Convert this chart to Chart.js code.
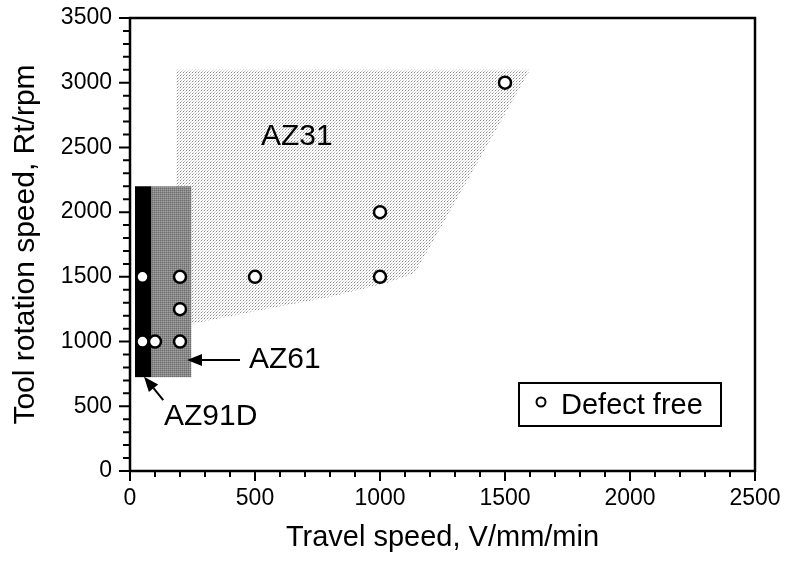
<!DOCTYPE html>
<html>
<head>
<meta charset="utf-8">
<script src="https://cdn.jsdelivr.net/npm/chart.js@4.4.1/dist/chart.umd.min.js"></script>
<style>
  html, body { margin: 0; padding: 0; background: #fff; }
  #wrap { width: 787px; height: 561px; }
</style>
</head>
<body>
<div id="wrap"><canvas id="chart" width="787" height="561"></canvas></div>
<script>
// defect free welds: travel speed (mm/min) vs tool rotation (rpm)
const travelSpeed   = [50, 50, 100, 200, 200, 200, 500, 1000, 1000, 1500];
const rotationSpeed = [1000, 1500, 1000, 1000, 1250, 1500, 1500, 1500, 2000, 3000];

// process windows for each alloy
const az31Speed     = [185, 1600, 1140, 1030, 800, 530, 280, 185];
const az31Rotation  = [3100, 3100, 1530, 1455, 1345, 1245, 1150, 1120];
const az61Speed     = [85, 245];
const az61Rotation  = [725, 2200];
const az91dSpeed    = [20, 85];
const az91dRotation = [725, 2200];

// axes
const xRange = [0, 2500];
const yRange = [0, 3500];
const majorStep = 500;
const minorStep = 100;

const FONT = "'Liberation Sans', Arial, sans-serif";

// text labels and arrows, in data units
const regionLabels = [
  { text: 'AZ31',  x: 524, y: 2519 },
  { text: 'AZ61',  x: 476, y: 796 },
  { text: 'AZ91D', x: 136, y: 355 }
];
const arrows = [
  { from: [440, 858], to: [228, 858] },
  { from: [133, 548], to: [56, 729] }
];

function makePattern(ctx, size, base, dots) {
  const c = document.createElement('canvas');
  c.width = size; c.height = size;
  const g = c.getContext('2d');
  g.fillStyle = base;
  g.fillRect(0, 0, size, size);
  dots.forEach(([dx, dy, col]) => { g.fillStyle = col; g.fillRect(dx, dy, 1, 1); });
  return ctx.createPattern(c, 'repeat');
}

// keep the plot box where the original has it
function pinScale(size, key) {
  return s => {
    s[key] = size;
    s.paddingTop = 0; s.paddingBottom = 0;
    s.paddingLeft = 0; s.paddingRight = 0;
  };
}

const regionsPlugin = {
  id: 'regions',
  beforeDatasetsDraw(chart) {
    const { ctx, chartArea, scales: { x, y } } = chart;
    const light = makePattern(ctx, 3, '#ffffff', [[0, 0, '#8c8c8c'], [1, 2, '#c2c2c2'], [2, 1, '#e2e2e2']]);
    const mid = makePattern(ctx, 2, '#888888', [[0, 0, '#6e6e6e'], [1, 1, '#a2a2a2']]);
    ctx.save();
    ctx.beginPath();
    ctx.rect(chartArea.left, chartArea.top, chartArea.width, chartArea.height);
    ctx.clip();

    // AZ31 window
    ctx.beginPath();
    az31Speed.forEach((v, i) => {
      const px = x.getPixelForValue(v), py = y.getPixelForValue(az31Rotation[i]);
      if (i === 0) ctx.moveTo(px, py); else ctx.lineTo(px, py);
    });
    ctx.closePath();
    ctx.fillStyle = light;
    ctx.fill();

    const box = (xs, ys, fill) => {
      const x0 = x.getPixelForValue(xs[0]), x1 = x.getPixelForValue(xs[1]);
      const y0 = y.getPixelForValue(ys[1]), y1 = y.getPixelForValue(ys[0]);
      ctx.fillStyle = fill;
      ctx.fillRect(x0, y0, x1 - x0, y1 - y0);
    };
    box(az61Speed, az61Rotation, mid);
    box(az91dSpeed, az91dRotation, '#000');
    ctx.restore();
  },
  afterDraw(chart) {
    const { ctx, chartArea: a, scales: { x, y } } = chart;
    ctx.save();

    // frame
    ctx.strokeStyle = '#000';
    ctx.lineWidth = 2.5;
    ctx.strokeRect(a.left, a.top, a.right - a.left, a.bottom - a.top);

    // major + minor ticks, outside
    ctx.lineWidth = 2;
    ctx.beginPath();
    for (let v = xRange[0]; v <= xRange[1]; v += minorStep) {
      const px = x.getPixelForValue(v);
      const len = v % majorStep === 0 ? 10 : 6;
      ctx.moveTo(px, a.bottom);
      ctx.lineTo(px, a.bottom + len);
    }
    for (let v = yRange[0]; v <= yRange[1]; v += minorStep) {
      const py = y.getPixelForValue(v);
      const len = v % majorStep === 0 ? 11 : 7;
      ctx.moveTo(a.left, py);
      ctx.lineTo(a.left - len, py);
    }
    ctx.stroke();

    // region labels
    ctx.fillStyle = '#000';
    ctx.font = '30px ' + FONT;
    ctx.textAlign = 'left';
    ctx.textBaseline = 'alphabetic';
    regionLabels.forEach(l => ctx.fillText(l.text, x.getPixelForValue(l.x), y.getPixelForValue(l.y)));

    // arrows
    arrows.forEach(ar => {
      const x0 = x.getPixelForValue(ar.from[0]), y0 = y.getPixelForValue(ar.from[1]);
      const x1 = x.getPixelForValue(ar.to[0]), y1 = y.getPixelForValue(ar.to[1]);
      const ang = Math.atan2(y1 - y0, x1 - x0);
      const hl = 15, hw = 6;
      const bx = x1 - hl * Math.cos(ang), by = y1 - hl * Math.sin(ang);
      ctx.lineWidth = 2;
      ctx.beginPath();
      ctx.moveTo(x0, y0);
      ctx.lineTo(bx, by);
      ctx.stroke();
      ctx.beginPath();
      ctx.moveTo(x1, y1);
      ctx.lineTo(bx + hw * Math.sin(ang), by - hw * Math.cos(ang));
      ctx.lineTo(bx - hw * Math.sin(ang), by + hw * Math.cos(ang));
      ctx.closePath();
      ctx.fill();
    });

    // legend box
    const lx = a.right - 236, ly = a.bottom - 88;
    ctx.fillStyle = '#fff';
    ctx.fillRect(lx, ly, 202, 43);
    ctx.lineWidth = 2;
    ctx.strokeRect(lx, ly, 202, 43);
    ctx.beginPath();
    ctx.arc(lx + 22, ly + 19, 4.5, 0, Math.PI * 2);
    ctx.stroke();
    ctx.fillStyle = '#000';
    ctx.font = '29px ' + FONT;
    ctx.fillText('Defect free', lx + 42, ly + 31);

    ctx.restore();
  }
};

new Chart(document.getElementById('chart'), {
  type: 'scatter',
  data: {
    datasets: [{
      label: 'Defect free',
      data: travelSpeed.map((v, i) => ({ x: v, y: rotationSpeed[i] })),
      pointRadius: 6,
      pointBorderWidth: 2.5,
      pointBackgroundColor: '#fff',
      pointBorderColor: '#000'
    }]
  },
  options: {
    responsive: false,
    animation: false,
    events: [],
    layout: { padding: { top: 18, right: 32, left: 0, bottom: 0 } },
    plugins: { legend: { display: false }, tooltip: { enabled: false } },
    scales: {
      x: {
        type: 'linear',
        min: xRange[0], max: xRange[1],
        grid: { display: false, drawTicks: false },
        border: { display: false },
        ticks: {
          stepSize: majorStep, padding: 14, color: '#000', maxRotation: 0,
          font: { family: FONT, size: 23 },
          callback: v => String(v)
        },
        title: { display: true, text: 'Travel speed, V/mm/min', color: '#000', font: { family: FONT, size: 29 }, padding: { bottom: 6 } },
        afterFit: pinScale(90, 'height')
      },
      y: {
        type: 'linear',
        min: yRange[0], max: yRange[1],
        grid: { display: false, drawTicks: false },
        border: { display: false },
        ticks: {
          stepSize: majorStep, padding: 18, color: '#000',
          font: { family: FONT, size: 23 },
          callback: v => String(v)
        },
        title: { display: true, text: 'Tool rotation speed, Rt/rpm', color: '#000', font: { family: FONT, size: 30 }, padding: { top: 8 } },
        afterFit: pinScale(130, 'width')
      }
    }
  },
  plugins: [regionsPlugin]
});
</script>
</body>
</html>
